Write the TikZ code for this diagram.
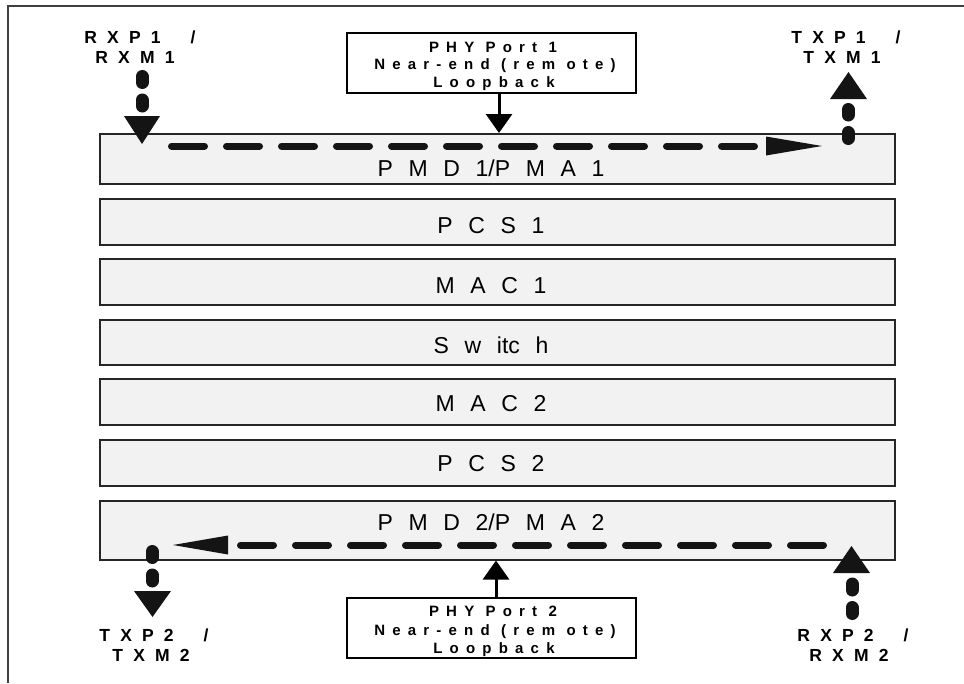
\documentclass[tikz,border=0pt]{standalone}
\usepackage{fontspec}
\setmainfont{Liberation Sans}
\newfontfamily\boxfont[WordSpace=2.45]{Liberation Sans}
\newfontfamily\phyfont[LetterSpace=48]{Liberation Sans}
\newfontfamily\portfont[LetterSpace=58,WordSpace=2]{Liberation Sans}
\usetikzlibrary{arrows.meta}
\begin{document}
\begin{tikzpicture}[x=1pt,y=-1pt,
  frame/.style={draw=black!75, line width=2pt},
  layer/.style={draw=black!85, line width=1.5pt, fill=black!5, minimum width=795pt,
    inner sep=0pt, anchor=north west},
  lbl/.style={font=\boxfont\fontsize{23}{27}\selectfont, anchor=base, inner sep=0pt},
  phybox/.style={draw=black, line width=2pt, fill=white, minimum width=289pt, minimum height=60pt,
    inner sep=0pt, align=center},
  phytxt/.style={font=\phyfont\bfseries\fontsize{15}{18}\selectfont, anchor=base, inner sep=0pt},
  portlbl/.style={font=\portfont\bfseries\fontsize{17.5}{20}\selectfont, anchor=base, inner sep=0pt},
  hdash/.style={draw=black!92, line width=7pt, line cap=round, dash pattern=on 33pt off 22pt},
  vdash/.style={draw=black!92, line width=13pt, line cap=round, dash pattern=on 6pt off 17.5pt},
  tipfill/.style={fill=black!92},
  loopar/.style={draw=black, line width=3pt, -{Triangle[width=26pt,length=19pt]}}
]
\useasboundingbox (0,0) rectangle (964,683);
% open frame
\draw[frame] (964,5.5) -- (8,5.5) -- (8,683);

% layers
\node[layer, minimum height=50pt] (pmd1) at (99,133) {};
\node[layer, minimum height=46pt] (pcs1) at (99,198) {};
\node[layer, minimum height=46pt] (mac1) at (99,258) {};
\node[layer, minimum height=45pt] (sw)   at (99,319) {};
\node[layer, minimum height=46pt] (mac2) at (99,378) {};
\node[layer, minimum height=46pt] (pcs2) at (99,439) {};
\node[layer, minimum height=59pt] (pmd2) at (99,500) {};

\node[lbl] (tpmd1) at (491,176) {P M D 1/P M A 1};
\node[lbl] (tpcs1) at (491,233) {P C S 1};
\node[lbl] (tmac1) at (491,293) {M A C 1};
\node[lbl] (tsw)   at (491,353) {S w itc h};
\node[lbl] (tmac2) at (491,411) {M A C 2};
\node[lbl] (tpcs2) at (491,471) {P C S 2};
\node[lbl] (tpmd2) at (491,530) {P M D 2/P M A 2};

% PHY loopback boxes
\node[phybox] (phy1) at (491.5,63) {};
\node[phybox] (phy2) at (491,628) {};
\node[phytxt] (p1a) at (493,52) {PHY Port 1};
\node[phytxt] (p1b) at (495,69.5) {Near-end (rem ote)};
\node[phytxt] (p1c) at (494,87) {Loopback};
\node[phytxt] (p2a) at (493,616) {PHY Port 2};
\node[phytxt] (p2b) at (495,635) {Near-end (rem ote)};
\node[phytxt] (p2c) at (494,653) {Loopback};
\coordinate (a1) at (499,0);
\coordinate (a2) at (496,0);
\draw[loopar] (phy1.south -| a1) -- (pmd1.north -| a1);
\draw[loopar] (phy2.north -| a2) -- (pmd2.south -| a2);

% port labels
\node[portlbl] (rxp1) at (140,43) {RXP1 /};
\node[portlbl] (rxm1) at (135,63) {RXM1};
\node[portlbl] (txp1) at (846,43) {TXP1 /};
\node[portlbl] (txm1) at (842,63) {TXM1};
\node[portlbl] (txp2) at (154,641) {TXP2 /};
\node[portlbl] (txm2) at (151,661) {TXM2};
\node[portlbl] (rxp2) at (853,641) {RXP2 /};
\node[portlbl] (rxm2) at (849,661) {RXM2};

% port 1 path
\coordinate (r1a) at (142,76.5);
\coordinate (r1b) at (142,106);
\draw[vdash] (r1a) -- (r1b);
\fill[tipfill] (124,116) -- (160,116) -- (142,144) -- cycle;
\coordinate (h1s) at (171.5,146);
\coordinate (h1e) at (754.5,146);
\draw[hdash] (h1s) -- (h1e);
\fill[tipfill] (766,136.5) -- (822,146) -- (766,155.5) -- cycle;
\coordinate (t1a) at (848,138.5);
\coordinate (t1b) at (848,109.5);
\draw[vdash] (t1a) -- (t1b);
\fill[tipfill] (830,99) -- (867,99) -- (848.5,72) -- cycle;

% port 2 path
\coordinate (r2a) at (852,613.5);
\coordinate (r2b) at (852,583.5);
\draw[vdash] (r2a) -- (r2b);
\fill[tipfill] (833,573) -- (870,573) -- (851.5,546) -- cycle;
\coordinate (h2s) at (823.5,545);
\coordinate (h2e) at (240.5,545);
\draw[hdash] (h2s) -- (h2e);
\fill[tipfill] (228,535.5) -- (228,554.5) -- (173,545) -- cycle;
\coordinate (t2a) at (152,551.5);
\coordinate (t2b) at (152,581);
\draw[vdash] (t2a) -- (t2b);
\fill[tipfill] (134,591) -- (171,591) -- (152.5,617) -- cycle;
\end{tikzpicture}
\end{document}
